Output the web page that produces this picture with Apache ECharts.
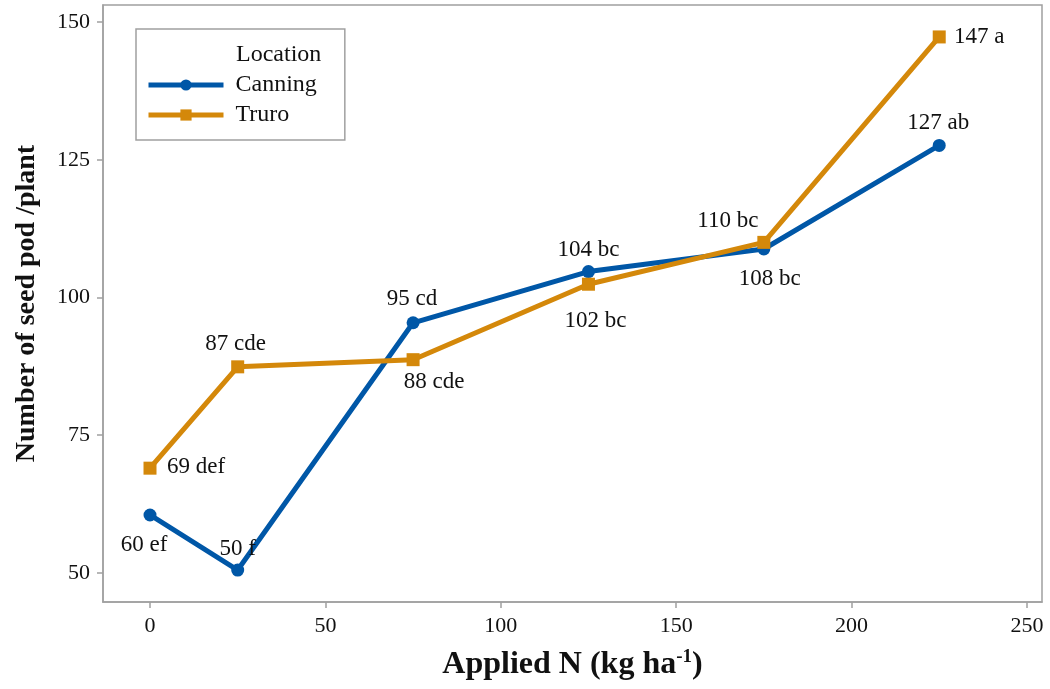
<!DOCTYPE html>
<html>
<head>
<meta charset="utf-8">
<script src="https://cdn.jsdelivr.net/npm/echarts@6/dist/echarts.min.js"></script>
<style>html,body{margin:0;padding:0;background:#fff}#c{width:1050px;height:689px}</style>
</head>
<body>
<div id="c"></div>
<script>
const xValues = [0, 25, 75, 125, 175, 225];
const canning = [60.5, 50.5, 95.4, 104.7, 108.8, 127.6];
const truro = [69.0, 87.4, 88.7, 102.4, 110.0, 147.3];
const canningLabels = ['60 ef', '50 f', '95 cd', '104 bc', '108 bc', '127 ab'];
const truroLabels = ['69 def', '87 cde', '88 cde', '102 bc', '110 bc', '147 a'];
const xTicks = [0, 50, 100, 150, 200, 250];
const yTicks = [50, 75, 100, 125, 150];
const seriesNames = ['Canning', 'Truro'];
const legendTitle = 'Location';
const xTitle = 'Applied N (kg ha';
const xTitleSup = '-1';
const yTitle = 'Number of seed pod /plant';

// label placement (pixel offsets from each point)
const canningOffsets = [[-6, 30], [0, -21], [-1, -24], [0, -22], [6, 30], [-1, -22]];
const truroOffsets = [[46, -1], [-2, -23], [21, 22], [7, 37], [-36, -21], [40, 0]];

const FONT = '"Liberation Serif", "Times New Roman", serif';
const BLUE = '#0057a7';
const ORANGE = '#d4880a';
const GRAY = '#a0a0a0';

function buildData(vals, labels, offsets) {
  return vals.map((v, i) => ({
    value: [xValues[i], v],
    label: {
      show: true,
      formatter: labels[i],
      position: 'inside',
      offset: offsets[i],
      color: '#111',
      fontFamily: FONT,
      fontSize: 23
    }
  }));
}

const chart = echarts.init(document.getElementById('c'), null, {renderer: 'canvas'});
chart.setOption({
  animation: false,
  backgroundColor: '#fff',
  textStyle: {fontFamily: FONT},
  title: {
    text: legendTitle,
    left: 231, top: 38,
    textStyle: {fontFamily: FONT, fontSize: 24, fontWeight: 'normal', color: '#111'}
  },
  legend: {
    data: seriesNames,
    orient: 'vertical',
    left: 136, top: 29,
    padding: [44, 28, 13, 10],
    itemWidth: 75, itemHeight: 14, itemGap: 6,
    borderColor: GRAY, borderWidth: 1.5,
    lineStyle: {width: 5},
    textStyle: {fontFamily: FONT, fontSize: 24, color: '#111', padding: [0, 0, 0, 7]}
  },
  grid: {
    left: 103, right: 8, top: 5, bottom: 87,
    show: true, borderColor: GRAY, borderWidth: 1.5
  },
  xAxis: {
    type: 'value',
    min: -13.4, max: 254.3,
    name: '{a|' + xTitle + '}{s|' + xTitleSup + '}{a|)}',
    nameLocation: 'middle',
    nameGap: 46,
    nameTextStyle: {
      rich: {
        a: {fontFamily: FONT, fontSize: 32, fontWeight: 'bold', color: '#111'},
        s: {fontFamily: FONT, fontSize: 19, fontWeight: 'bold', color: '#111', verticalAlign: 'top', padding: [0, 0, 14, 0]}
      }
    },
    axisLine: {show: true, onZero: false, lineStyle: {color: GRAY, width: 1.5}},
    axisTick: {show: true, customValues: xTicks, length: 6, lineStyle: {color: GRAY, width: 1.5}},
    axisLabel: {customValues: xTicks, margin: 13, fontFamily: FONT, fontSize: 22, color: '#111'},
    splitLine: {show: false}
  },
  yAxis: {
    type: 'value',
    min: 44.7, max: 153.1,
    name: yTitle,
    nameLocation: 'middle',
    nameGap: 62,
    nameRotate: 90,
    nameTextStyle: {fontFamily: FONT, fontSize: 28, fontWeight: 'bold', color: '#111'},
    axisLine: {show: true, onZero: false, lineStyle: {color: GRAY, width: 1.5}},
    axisTick: {show: true, customValues: yTicks, length: 6, lineStyle: {color: GRAY, width: 1.5}},
    axisLabel: {customValues: yTicks, margin: 13, fontFamily: FONT, fontSize: 22, color: '#111'},
    splitLine: {show: false}
  },
  series: [
    {
      name: seriesNames[0], type: 'line',
      data: buildData(canning, canningLabels, canningOffsets),
      symbol: 'circle', symbolSize: 13,
      lineStyle: {color: BLUE, width: 5},
      itemStyle: {color: BLUE},
      z: 2
    },
    {
      name: seriesNames[1], type: 'line',
      data: buildData(truro, truroLabels, truroOffsets),
      symbol: 'rect', symbolSize: 13,
      lineStyle: {color: ORANGE, width: 5},
      itemStyle: {color: ORANGE},
      z: 3
    }
  ]
});
</script>
</body>
</html>
